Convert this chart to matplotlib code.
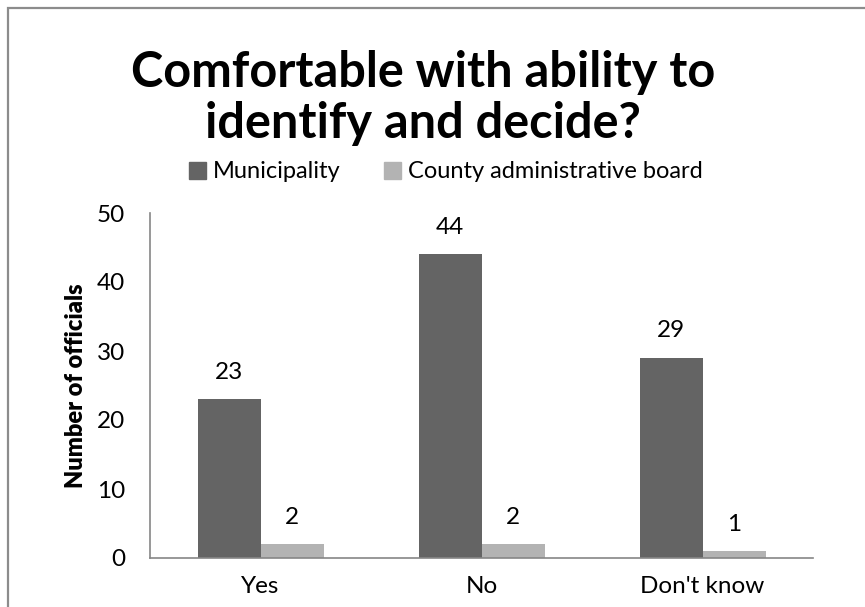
import matplotlib.pyplot as plt
from matplotlib.patches import Patch, Rectangle
import numpy as np

categories = ["Yes", "No", "Don't know"]
municipality = [23, 44, 29]
county_board = [2, 2, 1]
series_names = ["Municipality", "County administrative board"]

dark = "#646464"
light = "#b3b3b3"
axis_grey = "#868686"

plt.rcParams["font.family"] = ["Lato", "DejaVu Sans"]

W, H = 865, 607
fig = plt.figure(figsize=(W / 100, H / 100), dpi=100)

# outer chart-area frame, runs off the right and bottom edges
fig.patches.append(Rectangle((8 / W, -0.2), 1.3, 1 - 8 / H + 0.2,
                             transform=fig.transFigure, fill=False,
                             edgecolor="#8c8c8c", linewidth=1.6))

ax = fig.add_axes([150 / W, (H - 558) / H, (813 - 150) / W, (558 - 213) / H])

x = np.arange(len(categories))
bw = 63 / 221
b1 = ax.bar(x - bw / 2, municipality, bw, color=dark)
b2 = ax.bar(x + bw / 2, county_board, bw, color=light)

for bars, vals in ((b1, municipality), (b2, county_board)):
    for bar, v in zip(bars, vals):
        ax.text(bar.get_x() + bar.get_width() / 2, v + 2.4, str(v),
                ha="center", va="bottom", fontsize=17.5)

ax.set_xlim(-0.5, len(categories) - 0.5)
ax.set_ylim(0, 50)
ax.set_yticks(range(0, 51, 10))
ax.set_xticks(x)
ax.set_xticklabels(categories)
ax.tick_params(length=0, labelsize=17.5)
ax.tick_params(axis="y", pad=18)
ax.tick_params(axis="x", pad=13)
for s in ("top", "right"):
    ax.spines[s].set_visible(False)
for s in ("left", "bottom"):
    ax.spines[s].set_color(axis_grey)
    ax.spines[s].set_linewidth(1.2)

ax.set_ylabel("Number of officials", fontsize=17, fontweight="heavy", labelpad=7)

fig.text(423 / W, 1 - 98 / H, "Comfortable with ability to\nidentify and decide?",
         ha="center", va="center", fontsize=35, fontweight="bold",
         linespacing=1.15)

handles = [Patch(color=dark), Patch(color=light)]
fig.legend(handles, series_names, loc="center", bbox_to_anchor=(446 / W, 1 - 172 / H),
           ncol=2, frameon=False, fontsize=17, handlelength=0.7, handleheight=0.7,
           handletextpad=0.3, columnspacing=1.85)

fig.savefig("out.png", dpi=100)
